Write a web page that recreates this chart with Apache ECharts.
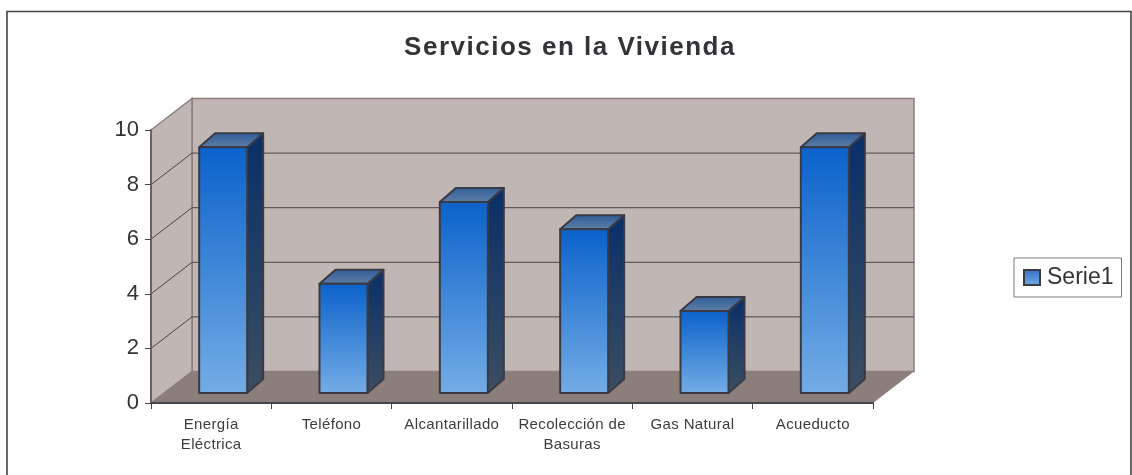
<!DOCTYPE html>
<html>
<head>
<meta charset="utf-8">
<style>html,body{margin:0;padding:0;background:#fff}#c{width:1132px;height:475px}</style>
<script src="https://cdn.jsdelivr.net/npm/echarts@6/dist/echarts.min.js"></script>
</head>
<body>
<div id="c"></div>
<script>
var categories = ['Energía\nEléctrica', 'Teléfono', 'Alcantarillado', 'Recolección de\nBasuras', 'Gas Natural', 'Acueducto'];
var values = [9, 4, 7, 6, 3, 9];
var gridValues = [2, 4, 6, 8];
var seriesName = 'Serie1';
var titleText = 'Servicios en la Vivienda';

var FONT = '"Liberation Sans", Arial, sans-serif';
var WALL_DX = 41, WALL_DY = -31.5;
var BAR_SHIFT_X = 12, BAR_SHIFT_Y = -10, BAR_W = 48, BAR_DX = 16, BAR_DY = -14;
var STROKE = '#3a3a44';

/* The reference's text is slightly letter-spaced; ECharts has no option for it. */
var SPACING = {26: '1.5px', 15: '0.35px'};
var nativeFill = CanvasRenderingContext2D.prototype.fillText;
CanvasRenderingContext2D.prototype.fillText = function (t, x, y, m) {
  var mt = /(\d+(?:\.\d+)?)px/.exec(this.font);
  var ls = mt && SPACING[+mt[1]];
  if (ls) this.letterSpacing = ls;
  if (m === undefined) nativeFill.call(this, t, x, y); else nativeFill.call(this, t, x, y, m);
  if (ls) this.letterSpacing = '0px';
};

function vgrad(a, b) {
  return new echarts.graphic.LinearGradient(0, 0, 0, 1, [{offset: 0, color: a}, {offset: 1, color: b}]);
}
var frontFill = vgrad('#0b62cb', '#74ade5');

var chart = echarts.init(document.getElementById('c'), null, {renderer: 'canvas'});

function renderWalls(params, api) {
  var r = params.coordSys, x0 = r.x, x1 = r.x + r.width, yT = r.y, yB = r.y + r.height;
  var wall = '#c0b7b4', floor = '#8c7e7a', edge = '#8c7e7a';
  return {type: 'group', silent: true, children: [
    {type: 'polygon', shape: {points: [[x0 + WALL_DX, yT + WALL_DY], [x1 + WALL_DX, yT + WALL_DY], [x1 + WALL_DX, yB + WALL_DY], [x0 + WALL_DX, yB + WALL_DY]]},
      style: {fill: wall, stroke: edge, lineWidth: 1.5}},
    {type: 'polygon', shape: {points: [[x0, yT], [x0 + WALL_DX, yT + WALL_DY], [x0 + WALL_DX, yB + WALL_DY], [x0, yB]]},
      style: {fill: wall, stroke: edge, lineWidth: 1.5}},
    {type: 'polygon', shape: {points: [[x0, yB], [x0 + WALL_DX, yB + WALL_DY], [x1 + WALL_DX, yB + WALL_DY], [x1, yB]]},
      style: {fill: floor}}
  ]};
}

function renderGrid(params, api) {
  var r = params.coordSys, x0 = r.x, x1 = r.x + r.width;
  var y = api.coord([0, api.value(0)])[1];
  return {type: 'group', silent: true, children: [
    {type: 'polyline', shape: {points: [[x0, y], [x0 + WALL_DX, y + WALL_DY], [x1 + WALL_DX, y + WALL_DY]]},
      style: {fill: 'none', stroke: '#4a4645', lineWidth: 1}}
  ]};
}

function renderBar(params, api) {
  var i = api.value(0), v = api.value(1);
  var top = api.coord([i, v]), base = api.coord([i, 0]);
  var l = top[0] + BAR_SHIFT_X - BAR_W / 2, rgt = l + BAR_W;
  var t = top[1] + BAR_SHIFT_Y, b = base[1] + BAR_SHIFT_Y;
  var sty = function (fill) { return {fill: fill, stroke: STROKE, lineWidth: 2, lineJoin: 'round'}; };
  return {type: 'group', children: [
    {type: 'polygon', shape: {points: [[rgt, t], [rgt + BAR_DX, t + BAR_DY], [rgt + BAR_DX, b + BAR_DY], [rgt, b]]},
      style: sty(vgrad('#082f69', '#3c4e62'))},
    {type: 'polygon', shape: {points: [[l, t], [l + BAR_DX, t + BAR_DY], [rgt + BAR_DX, t + BAR_DY], [rgt, t]]},
      style: sty(vgrad('#2f5c98', '#5f80a6'))},
    {type: 'rect', shape: {x: l, y: t, width: BAR_W, height: b - t},
      style: sty(frontFill)}
  ]};
}

chart.setOption({
  animation: false,
  backgroundColor: '#ffffff',
  title: {
    text: titleText, left: 565, top: 30, textAlign: 'center',
    textStyle: {fontFamily: FONT, fontSize: 26, fontWeight: 'bold', color: '#333338'}
  },
  legend: {
    data: [seriesName], left: 1014, top: 258, orient: 'vertical',
    padding: [7, 8, 7, 9], borderColor: '#7a7a7a', borderWidth: 1,
    itemWidth: 16, itemHeight: 15, itemGap: 0, icon: 'rect',
    textStyle: {fontFamily: FONT, fontSize: 23, lineHeight: 25, color: '#333338', padding: [0, 0, 0, 2]}
  },
  grid: {left: 151, right: 259, top: 130, bottom: 72},
  xAxis: {
    type: 'category', data: categories, z: 3,
    axisLine: {show: true, lineStyle: {color: '#47434a', width: 2}},
    axisTick: {show: true, alignWithLabel: false, length: 6, lineStyle: {color: '#47434a', width: 1}},
    axisLabel: {interval: 0, margin: 12, color: '#3c3c40', fontFamily: FONT, fontSize: 15, lineHeight: 20}
  },
  yAxis: {
    type: 'value', min: 0, max: 10, interval: 2, z: 3,
    axisLine: {show: true, lineStyle: {color: '#6b6361', width: 2}},
    axisTick: {show: true, length: 6, lineStyle: {color: '#47434a', width: 1}},
    axisLabel: {margin: 12, color: '#333338', fontFamily: FONT, fontSize: 22},
    splitLine: {show: false}
  },
  graphic: [{
    type: 'rect', z: 0, silent: true,
    shape: {x: 7, y: 11.5, width: 1124, height: 480},
    style: {fill: 'none', stroke: '#444', lineWidth: 1.6}
  }],
  series: [
    {name: 'walls', type: 'custom', coordinateSystem: 'cartesian2d', z: 1, silent: true, clip: false,
      data: [[0]], encode: {x: -1, y: -1}, renderItem: renderWalls},
    {name: 'gridlines', type: 'custom', coordinateSystem: 'cartesian2d', z: 2, silent: true, clip: false,
      data: gridValues.map(function (g) { return [g]; }), encode: {x: -1, y: 0}, renderItem: renderGrid},
    {name: seriesName, type: 'custom', coordinateSystem: 'cartesian2d', z: 4, clip: false,
      itemStyle: {color: vgrad('#2f6fc8', '#74ade5'), borderColor: STROKE, borderWidth: 1.6},
      encode: {x: 0, y: 1},
      data: values.map(function (v, i) { return [i, v]; }), renderItem: renderBar}
  ]
});
</script>
</body>
</html>
